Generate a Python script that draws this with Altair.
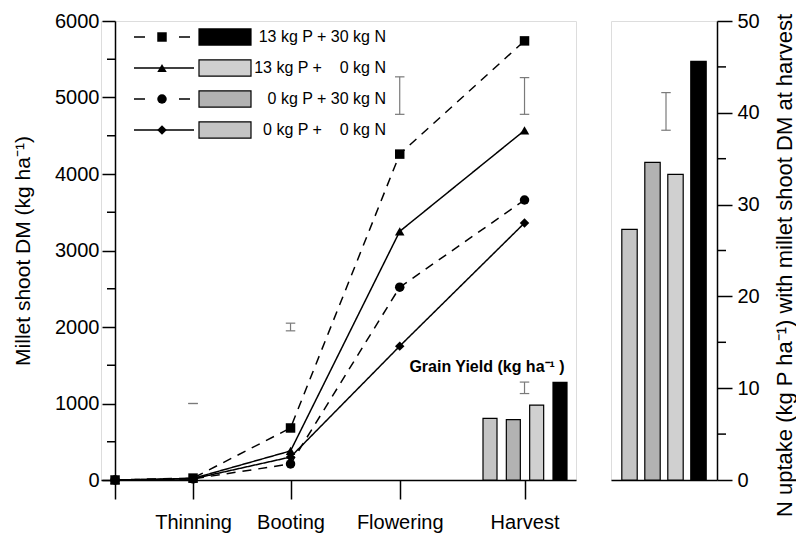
import altair as alt
import pandas as pd

# ---------------- data ----------------
treatments = ["13 kg P + 30 kg N", "13 kg P + 0 kg N", "0 kg P + 30 kg N", "0 kg P + 0 kg N"]
legend_labels = ["13 kg P + 30 kg N", "13 kg P +\u2007\u20070 kg N",
                 "\u20070 kg P + 30 kg N", "\u20070 kg P +\u2007\u20070 kg N"]
n_rate = [30, 0, 30, 0]

stage_names = ["", "Thinning", "Booting", "Flowering", "Harvest"]
stage_day = [0, 20, 45, 73, 105]

dm_13P30N = [0, 25, 680, 4260, 5740]
dm_13P0N = [0, 20, 380, 3250, 4570]
dm_0P30N = [0, 15, 210, 2520, 3660]
dm_0P0N = [0, 15, 300, 1750, 3360]

lsd_day = [20, 45, 73, 105]
lsd_lo = [1000, 1950, 4780, 4780]
lsd_hi = [1000, 2050, 5270, 5260]

bar_order = ["0 kg P + 0 kg N", "0 kg P + 30 kg N", "13 kg P + 0 kg N", "13 kg P + 30 kg N"]
grain_yield = [806, 788, 980, 1277]
grain_lsd = [1130, 1280]
grain_lsd_day = [105]

n_uptake = [27.3, 34.6, 33.3, 45.6]
n_lsd = [38.1, 42.2]

dm_major = list(range(0, 6001, 1000))
dm_minor = list(range(500, 6000, 1000))
nu_major = list(range(0, 51, 10))
nu_minor = list(range(5, 50, 10))

# ---------------- tables ----------------
series = {treatments[0]: dm_13P30N, treatments[1]: dm_13P0N,
          treatments[2]: dm_0P30N, treatments[3]: dm_0P0N}
dm_df = pd.DataFrame([
    {"treatment": t, "day": d, "dm": v}
    for t, vals in series.items() for d, v in zip(stage_day, vals)
])
lsd_df = pd.DataFrame({"day": lsd_day + grain_lsd_day,
                       "lo": lsd_lo + [grain_lsd[0]],
                       "hi": lsd_hi + [grain_lsd[1]]})
grain_df = pd.DataFrame({"treatment": bar_order, "grain": grain_yield})
nup_df = pd.DataFrame({"treatment": bar_order, "nup": n_uptake})
nlsd_df = pd.DataFrame({"lo": [n_lsd[0]], "hi": [n_lsd[1]]})
leg_df = pd.DataFrame({"treatment": treatments, "label": legend_labels, "n": n_rate})
dm_minor_df = pd.DataFrame({"tick": dm_minor})
nu_minor_df = pd.DataFrame({"tick": nu_minor})

FONT = "Liberation Sans"
W_L, W_R, H = 475, 106, 459
AX = dict(domainColor="black", tickColor="black", domainWidth=1.5, tickWidth=1.5, grid=False,
          labelFont=FONT, labelColor="black", labelFontSize=20)

fill_scale = alt.Scale(domain=bar_order, range=["#c4c4c4", "#b2b2b2", "#d0d0d0", "#000000"])
shape_scale = alt.Scale(domain=treatments, range=["square", "triangle-up", "circle", "diamond"])
dash_scale = alt.Scale(domain=treatments, range=[[9, 7], [1, 0], [9, 7], [1, 0]])

x_dom = alt.Scale(domain=[-3.6, 118.2], nice=False, zero=False)
y_dom = alt.Scale(domain=[0, 6000], nice=False)

label_expr_x = ("[" + ",".join("'" + s + "'" for s in stage_names) + "][indexof(["
                + ",".join(str(d) for d in stage_day) + "], datum.value)]")

x_axis = alt.Axis(values=stage_day, labelExpr=label_expr_x, tickSize=19, labelPadding=13,
                  title=None, **AX)
y_axis = alt.Axis(values=dm_major, format="d", tickSize=13, offset=-14, labelPadding=3,
                  title="Millet shoot DM (kg ha\u207b\u00b9)", titleFont=FONT, titleFontSize=21,
                  titleFontWeight="normal", titleColor="black", titlePadding=21, **AX)

base_dm = alt.Chart(dm_df)
lines = base_dm.mark_line(color="black", strokeWidth=1.5).encode(
    x=alt.X("day:Q", scale=x_dom, axis=x_axis),
    y=alt.Y("dm:Q", scale=y_dom, axis=y_axis),
    strokeDash=alt.StrokeDash("treatment:N", scale=dash_scale, legend=None),
)
points = base_dm.mark_point(filled=True, color="black", opacity=1, size=90).encode(
    x=alt.X("day:Q", scale=x_dom, axis=None),
    y=alt.Y("dm:Q", scale=y_dom, axis=None),
    shape=alt.Shape("treatment:N", scale=shape_scale, legend=None),
)
# minor ticks of the left axis (500, 1500, ...)
minor_left = alt.Chart(dm_minor_df).mark_tick(
    orient="horizontal", color="black", thickness=1.5, size=8, opacity=1).encode(
    x=alt.value(10), y=alt.Y("tick:Q", scale=y_dom, axis=None))
lsd_rule = alt.Chart(lsd_df).mark_rule(color="#7a7a7a", strokeWidth=1.2).encode(
    x=alt.X("day:Q", scale=x_dom, axis=None),
    y=alt.Y("lo:Q", scale=y_dom, axis=None),
    y2="hi:Q",
)
lsd_caps = alt.Chart(lsd_df).transform_fold(["lo", "hi"], as_=["end", "v"]).mark_point(
    shape="M-1,0L1,0", size=90, color="#7a7a7a", strokeWidth=1.2, opacity=1).encode(
    x=alt.X("day:Q", scale=x_dom, axis=None),
    y=alt.Y("v:Q", scale=y_dom, axis=None),
)
grain_bars = alt.Chart(grain_df).mark_bar(size=14, stroke="black", strokeWidth=1.2).encode(
    x=alt.X("treatment:N", scale=alt.Scale(type="point", domain=bar_order, range=[389, 459], padding=0),
            axis=None),
    y=alt.Y("grain:Q", scale=y_dom, axis=None),
    fill=alt.Fill("treatment:N", scale=fill_scale, legend=None),
)
grain_text = alt.Chart(grain_df).transform_aggregate(n="count()").mark_text(
    text="Grain Yield (kg ha\u207b\u00b9 )", font=FONT, fontSize=16, fontWeight="bold",
    color="black", align="center", baseline="middle").encode(
    x=alt.value(386), y=alt.value(346))

leg_y = alt.Y("treatment:N", scale=alt.Scale(type="point", domain=treatments, range=[16, 109], padding=0),
              axis=None)
leg_base = alt.Chart(leg_df)
leg_dash = leg_base.transform_filter("datum.n == 30").mark_rule(
    color="black", strokeWidth=1.5, strokeDash=[11, 34, 11]).encode(
    x=alt.value(33), x2=alt.value(91), y=leg_y)
leg_solid = leg_base.transform_filter("datum.n == 0").mark_rule(
    color="black", strokeWidth=1.5).encode(x=alt.value(33), x2=alt.value(93), y=leg_y)
leg_mark = leg_base.mark_point(filled=True, color="black", opacity=1, size=90).encode(
    x=alt.value(61), y=leg_y, shape=alt.Shape("treatment:N", scale=shape_scale, legend=None))
leg_swatch = leg_base.mark_point(shape="M-1,-0.31L1,-0.31L1,0.31L-1,0.31Z", size=2704,
                                 filled=True, stroke="black", strokeWidth=1.2, opacity=1).encode(
    x=alt.value(124), y=leg_y, fill=alt.Fill("treatment:N", scale=fill_scale, legend=None))
leg_text = leg_base.mark_text(align="right", baseline="middle", font=FONT, fontSize=16,
                              color="black").encode(
    x=alt.value(285), y=leg_y, text="label:N")

left = alt.layer(lines, points, minor_left, lsd_rule, lsd_caps, grain_bars, grain_text,
                 leg_dash, leg_solid, leg_mark, leg_swatch, leg_text).resolve_scale(
    x="independent", y="independent").properties(width=W_L, height=H)

# ---------------- right panel ----------------
r_y_scale = alt.Scale(domain=[0, 50], nice=False)
r_y_axis = alt.Axis(orient="right", values=nu_major, tickSize=15, labelPadding=5,
                    title="N uptake (kg P ha\u207b\u00b9) with millet shoot DM at harvest",
                    titleFont=FONT, titleFontSize=22, titleFontWeight="normal", titleColor="black",
                    titleAngle=270, titlePadding=37, titleY=244, **AX)
r_bars = alt.Chart(nup_df).mark_bar(stroke="black", strokeWidth=1.2).encode(
    x=alt.X("treatment:N", sort=bar_order,
            scale=alt.Scale(type="band", domain=bar_order, paddingInner=0.33, paddingOuter=0.47),
            axis=alt.Axis(labels=False, ticks=False, title=None, domainColor="black", domainWidth=1.5)),
    y=alt.Y("nup:Q", scale=r_y_scale, axis=r_y_axis),
    fill=alt.Fill("treatment:N", scale=fill_scale, legend=None),
)
minor_right = alt.Chart(nu_minor_df).mark_tick(
    orient="horizontal", color="black", thickness=1.5, size=9, opacity=1).encode(
    x=alt.value(W_R + 4.5), y=alt.Y("tick:Q", scale=r_y_scale))
r_lsd = alt.Chart(nlsd_df).mark_rule(color="#7a7a7a", strokeWidth=1.2).encode(
    x=alt.value(55), y=alt.Y("lo:Q", scale=r_y_scale), y2="hi:Q")
r_caps = alt.Chart(nlsd_df).transform_fold(["lo", "hi"], as_=["end", "v"]).mark_point(
    shape="M-1,0L1,0", size=90, color="#7a7a7a", strokeWidth=1.2, opacity=1).encode(
    x=alt.value(55), y=alt.Y("v:Q", scale=r_y_scale))
right = alt.layer(r_bars, minor_right, r_lsd, r_caps).properties(width=W_R, height=H)

chart = alt.hconcat(left, right, spacing=35, bounds="flush").properties(
    padding={"left": 4, "top": 2, "right": 0, "bottom": 0}
).configure_view(stroke=None).configure(font=FONT)

chart.save("out.html", embed_options={"renderer": "svg", "actions": False})
